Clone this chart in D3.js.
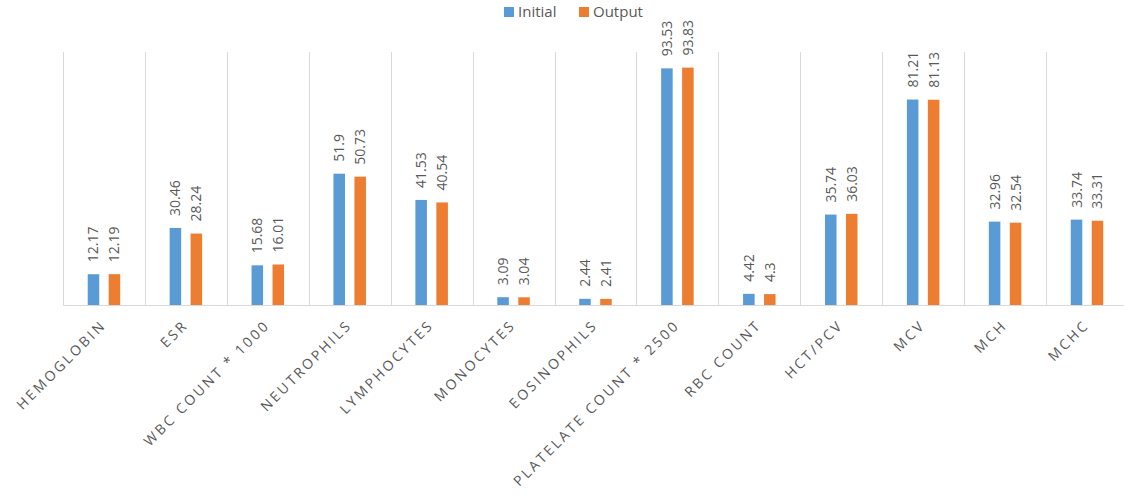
<!DOCTYPE html>
<html>
<head>
<meta charset="utf-8">
<script src="https://cdn.jsdelivr.net/npm/d3@7"></script>
<style>
  html, body { margin: 0; padding: 0; background: #fff; }
  svg { display: block; font-family: "Open Sans", "DejaVu Sans", sans-serif; }
</style>
</head>
<body>
<svg id="chart" width="1124" height="501"></svg>
<script>
// Blood test parameters, before and after
const categories = ["HEMOGLOBIN", "ESR", "WBC COUNT * 1000", "NEUTROPHILS", "LYMPHOCYTES",
  "MONOCYTES", "EOSINOPHILS", "PLATELATE COUNT * 2500", "RBC COUNT", "HCT/PCV", "MCV", "MCH", "MCHC"];
const seriesNames = ["Initial", "Output"];
const initialValues = [12.17, 30.46, 15.68, 51.9, 41.53, 3.09, 2.44, 93.53, 4.42, 35.74, 81.21, 32.96, 33.74];
const outputValues  = [12.19, 28.24, 16.01, 50.73, 40.54, 3.04, 2.41, 93.83, 4.3, 36.03, 81.13, 32.54, 33.31];
const seriesColors = ["#5B9BD5", "#ED7D31"];

const svg = d3.select("#chart");
const left = 63, step = 81.92, baseY = 305, topY = 52;
const x0 = d3.scaleBand().domain(categories).range([left, left + step * categories.length]).padding(0);
const y = d3.scaleLinear().domain([0, 100]).range([baseY, baseY - 253]);
const half = 16.25;
const x1 = d3.scaleBand().domain(seriesNames).range([-half, half]).paddingInner(0.45).paddingOuter(0);
const color = d3.scaleOrdinal().domain(seriesNames).range(seriesColors);

const rows = categories.map((c, i) => ({ cat: c, vals: [
  { s: "Initial", v: initialValues[i] }, { s: "Output", v: outputValues[i] }] }));

// vertical separators between categories
const bounds = categories.map(c => x0(c)).concat([x0.range()[1]]);
svg.append("g").selectAll("line").data(bounds).join("line")
  .attr("x1", d => Math.round(d) + 0.5).attr("x2", d => Math.round(d) + 0.5)
  .attr("y1", topY).attr("y2", baseY)
  .attr("stroke", "#d9d9d9").attr("stroke-width", 1);

// bars and value labels
const groups = svg.append("g").selectAll("g").data(rows).join("g")
  .attr("transform", d => `translate(${x0(d.cat) + x0.bandwidth() / 2},0)`);

groups.selectAll("rect").data(d => d.vals).join("rect")
  .attr("x", d => x1(d.s)).attr("width", x1.bandwidth())
  .attr("y", d => y(d.v)).attr("height", d => y(0) - y(d.v))
  .attr("fill", d => color(d.s));

groups.selectAll("text").data(d => d.vals).join("text")
  .attr("transform", d => `translate(${x1(d.s) + x1.bandwidth() / 2 + 5},${y(d.v) - 12}) rotate(-90)`)
  .attr("text-anchor", "start")
  .attr("font-size", 14).attr("fill", "#595959")
  .text(d => d.v);

// baseline
svg.append("line")
  .attr("x1", left).attr("x2", 1124).attr("y1", baseY + 0.5).attr("y2", baseY + 0.5)
  .attr("stroke", "#d9d9d9").attr("stroke-width", 1);

// category labels
const xAxis = d3.axisBottom(x0).tickSize(0).tickPadding(0);
const ax = svg.append("g").attr("transform", `translate(0,${baseY})`).call(xAxis);
ax.select(".domain").remove();
ax.selectAll("text")
  .attr("font-family", "\"Open Sans\", sans-serif")
  .attr("font-size", 14).attr("fill", "#595959")
  .attr("letter-spacing", "2.6px")
  .attr("text-anchor", "end")
  .attr("dy", 0).attr("y", 0)
  .attr("transform", "translate(3,21) rotate(-45)");

// legend
const legend = svg.append("g");
const legendItems = [{ s: "Initial", x: 504 }, { s: "Output", x: 579 }];
legendItems.forEach(it => {
  legend.append("rect").attr("x", it.x).attr("y", 7).attr("width", 10).attr("height", 10).attr("fill", color(it.s));
  legend.append("text").attr("x", it.x + 14).attr("y", 17).attr("font-size", 15).attr("fill", "#595959").text(it.s);
});
</script>
</body>
</html>
